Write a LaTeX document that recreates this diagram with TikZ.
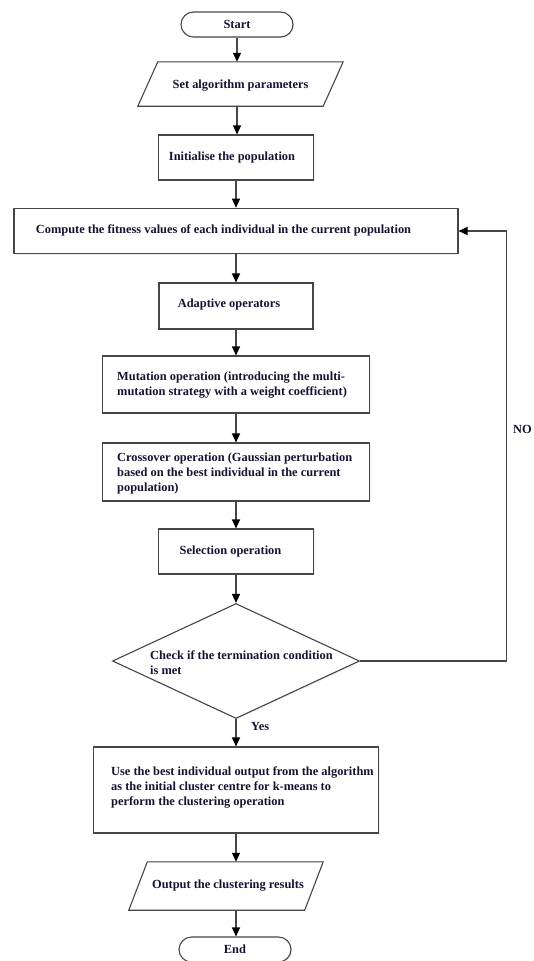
\documentclass[tikz,border=0pt]{standalone}
\usepackage{fontspec}
\setmainfont{Liberation Serif}
\usetikzlibrary{arrows.meta,shapes.geometric,shadows}
\definecolor{lineg}{RGB}{70,70,70}
\definecolor{txt}{RGB}{20,20,50}
\begin{document}
\begin{tikzpicture}[x=1pt,y=-1pt,
  every node/.style={font=\fontsize{12.4}{15}\selectfont\bfseries, text=txt},
  box/.style={draw=lineg, line width=1.1pt, fill=white, rectangle, inner sep=0pt,
    drop shadow={opacity=0.12, shadow xshift=1.2pt, shadow yshift=-1.2pt}},
  term/.style={box, rounded corners=12.5pt},
  ghost/.style={rectangle, inner sep=0pt},
  dec/.style={draw=lineg, line width=1.1pt, fill=white, diamond, inner sep=0pt,
    drop shadow={opacity=0.12, shadow xshift=1.2pt, shadow yshift=-1.2pt}},
  pline/.style={draw=lineg, line width=1.1pt, fill=white},
  lbl/.style={inner sep=0pt, align=left},
  arr/.style={draw=lineg, line width=1.1pt, -{Triangle[length=9pt,width=8pt,color=black]}}
]
\useasboundingbox (0,0) rectangle (533,961);

% shapes
\node[term, minimum width=112pt, minimum height=25pt] (start) at (237,24.5) {Start};

\node[ghost, minimum width=205pt, minimum height=44pt] (par1) at (240.5,84) {};
\draw[pline] ([xshift=20pt]par1.north west) -- (par1.north east) -- ([xshift=-20pt]par1.south east) -- (par1.south west) -- cycle;
\node[lbl] (tpar1) at (240.5,86) {Set algorithm parameters};

\node[box, minimum width=155pt, minimum height=45pt] (init) at (236,157.5) {};
\node[lbl] (tinit) at (232,158) {Initialise the population};

\node[box, minimum width=444pt, minimum height=45.5pt] (compute) at (236,231) {};
\node[lbl] (tcompute) at (223.5,230) {Compute the fitness values of each individual in the current population};

\node[box, minimum width=154pt, minimum height=46pt] (adapt) at (236,306) {};
\node[lbl] (tadapt) at (229,305) {Adaptive operators};

\node[box, minimum width=267pt, minimum height=57pt] (mut) at (236,384.5) {};
\node[lbl, anchor=west] (tmut) at (117,385.5) {Mutation operation (introducing the multi-\\mutation strategy with a weight coefficient)};

\node[box, minimum width=267pt, minimum height=58pt] (cross) at (236,472) {};
\node[lbl, anchor=west] (tcross) at (117,473.5) {Crossover operation (Gaussian perturbation\\based on the best individual in the current\\population)};

\node[box, minimum width=155pt, minimum height=45pt] (sel) at (236,551.5) {};
\node[lbl] (tsel) at (230.5,552) {Selection operation};

\node[dec, minimum width=247pt, minimum height=115pt] (dia) at (236,661) {};
\node[lbl, anchor=west] (tdia) at (150,663) {Check if the termination condition\\is met};

\node[box, minimum width=285pt, minimum height=86pt] (use) at (236,790) {};
\node[lbl, anchor=west] (tuse) at (111,787) {Use the best individual output from the algorithm\\as the initial cluster centre for k-means to\\perform the clustering operation};

\node[ghost, minimum width=194pt, minimum height=48pt] (par2) at (226,886) {};
\draw[pline] ([xshift=18.5pt]par2.north west) -- (par2.north east) -- ([xshift=-18.5pt]par2.south east) -- (par2.south west) -- cycle;
\node[lbl] (tpar2) at (228,886) {Output the clustering results};

\node[term, minimum width=112pt, minimum height=25pt] (stop) at (235,949.5) {End};

% connectors
\draw[arr] (start.south) -- (start.south |- par1.north);
\draw[arr] (start.south |- par1.south) -- (start.south |- init.north);
\draw[arr] (init.south) -- (compute.north);
\draw[arr] (compute.south) -- (adapt.north);
\draw[arr] (adapt.south) -- (mut.north);
\draw[arr] (mut.south) -- (cross.north);
\draw[arr] (cross.south) -- (sel.north);
\draw[arr] (sel.south) -- (dia.north);
\draw[arr] (dia.south) -- (use.north);
\draw[arr] (use.south) -- (use.south |- par2.north);
\draw[arr] (use.south |- par2.south) -- (use.south |- stop.north);
\draw[arr] (dia.east) -- ++(146.5,0) coordinate (loopc) |- (compute.east);

\node[lbl, anchor=west] (yes) at (251,726) {Yes};
\node[lbl, anchor=west] (no) at (513,429) {NO};
\end{tikzpicture}
\end{document}
